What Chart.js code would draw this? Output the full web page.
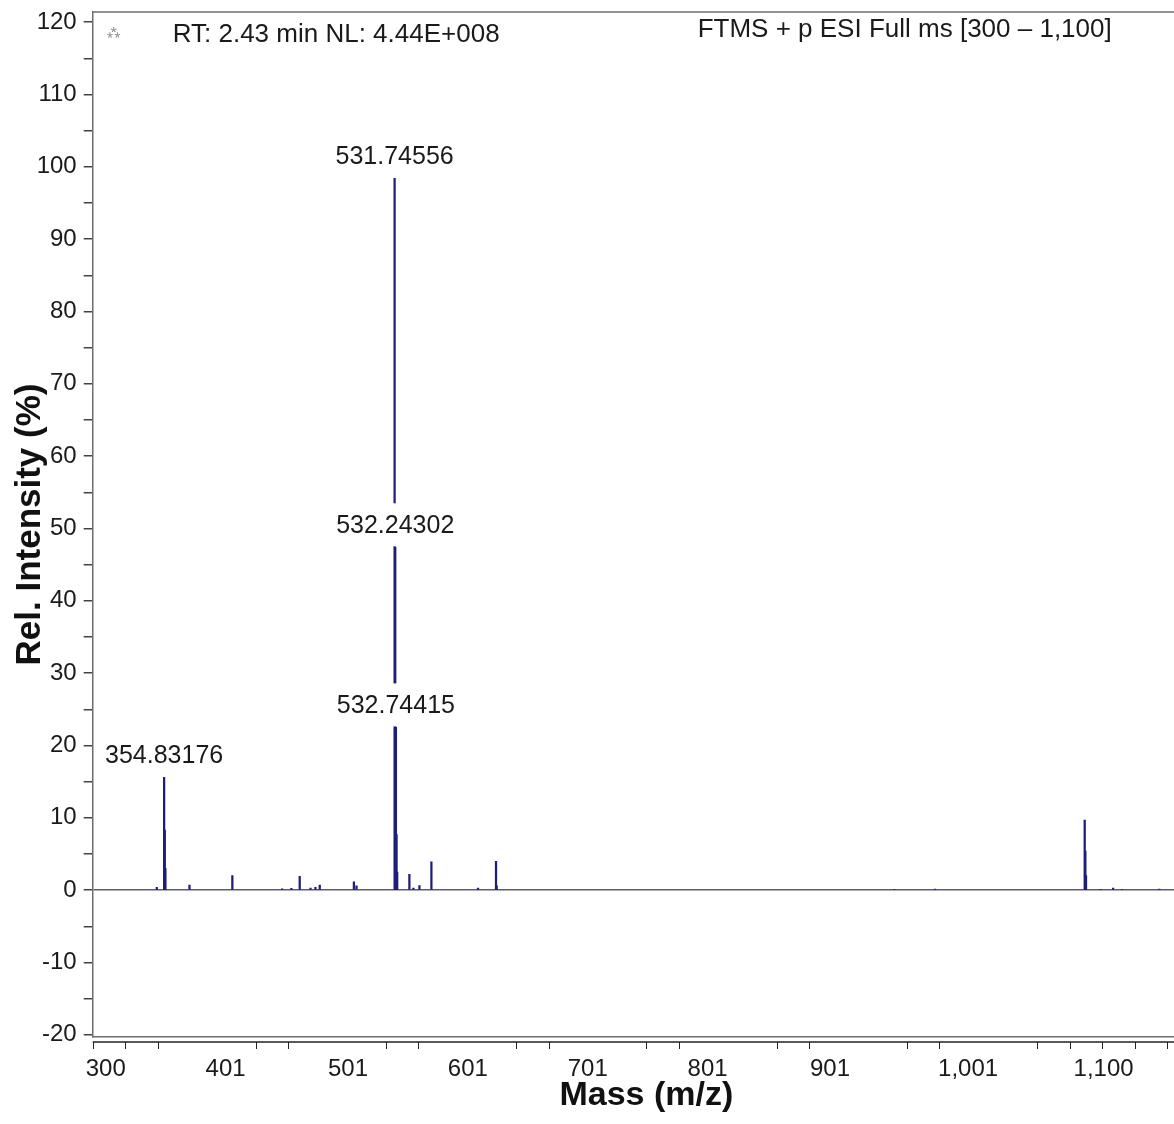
<!DOCTYPE html>
<html><head><meta charset="utf-8">
<script src="https://cdn.jsdelivr.net/npm/chart.js@4.4.1/dist/chart.umd.min.js"></script>
<style>
html,body{margin:0;padding:0;background:#fff;overflow:hidden;width:1174px;height:1124px}
#wrap{position:relative;width:1200px;height:1124px}
</style></head>
<body><div id="wrap"><canvas id="c" width="1200" height="1124"></canvas></div>
<script>
// ---- data ----
const mzValues = [349.2, 354.83176, 355.33, 355.83, 374.3, 407.2, 445.4, 452.5, 458.9, 467.2, 471.0, 474.3,
  500.5, 502.5, 531.74556, 532.24302, 532.74415, 533.25, 533.75, 543.1, 546.2, 550.8, 560.0, 595.8,
  609.6, 610.1, 915.4, 946.6, 1061.5, 1062.0, 1062.5, 1073.8, 1083.3, 1090.2, 1118.7];
const intensities = [0.4, 15.6, 8.3, 3.0, 0.7, 2.0, 0.2, 0.25, 1.9, 0.3, 0.4, 0.7,
  1.15, 0.6, 98.4, 47.4, 22.5, 7.7, 2.5, 2.2, 0.3, 0.65, 3.9, 0.3,
  4.0, 0.6, 0.1, 0.15, 9.7, 5.4, 2.0, 0.1, 0.3, 0.1, 0.15];
const labelledPeaks = [354.83176, 531.74556, 532.24302, 532.74415];
const yTickValues = [-20,-15,-10,-5,0,5,10,15,20,25,30,35,40,45,50,55,60,65,70,75,80,85,90,95,100,105,110,115,120];
const xLabelValues = [310, 402, 496, 588, 680, 772, 866, 972, 1076];
const xLabelTexts = ['300','401','501','601','701','801','901','1,001','1,100'];
const xTickMarks = [300,325,350,425,450,525,550,625,650,725,750,825,850,925,950,1025,1050,1075,1100,1125];
const headerLeft = 'RT: 2.43 min NL: 4.44E+008';
const headerRight = 'FTMS + p ESI Full ms [300 \u2013 1,100]';
const xTitle = 'Mass (m/z)';
const yTitle = 'Rel. Intensity (%)';

const FONT = '"Liberation Sans", Arial, sans-serif';
const PEAK = '#1e1e7a';

const extras = {
  id: 'extras',
  afterDatasetsDraw(chart) {
    const {ctx, scales: {x, y}} = chart;
    ctx.save();
    ctx.font = '25px ' + FONT;
    ctx.textAlign = 'center';
    ctx.textBaseline = 'middle';
    labelledPeaks.forEach(mz => {
      const i = mzValues.indexOf(mz);
      const px = x.getPixelForValue(mz);
      const top = y.getPixelForValue(intensities[i]);
      const txt = mz.toFixed(5);
      const w = ctx.measureText(txt).width;
      ctx.fillStyle = '#fff';
      ctx.fillRect(px - w / 2 - 3, top - 44, w + 6, 43);
      ctx.fillStyle = '#1a1a1a';
      ctx.fillText(txt, px, top - 21);
    });
    ctx.restore();
  },
  afterDraw(chart) {
    const {ctx, chartArea: a, scales: {x}} = chart;
    ctx.save();
    ctx.strokeStyle = '#6e6e6e';
    ctx.lineWidth = 1.5;
    ctx.beginPath();
    ctx.moveTo(a.left, a.top);
    ctx.lineTo(a.right, a.top);
    ctx.stroke();
    const ay = a.bottom + 5;
    ctx.strokeStyle = '#222';
    ctx.lineWidth = 1.5;
    ctx.beginPath();
    ctx.moveTo(a.left, ay);
    ctx.lineTo(a.right, ay);
    ctx.stroke();
    ctx.lineWidth = 1;
    ctx.beginPath();
    xTickMarks.forEach(v => {
      const px = Math.round(x.getPixelForValue(v)) + 0.5;
      ctx.moveTo(px, ay);
      ctx.lineTo(px, ay + 7);
    });
    ctx.stroke();
    ctx.fillStyle = '#1a1a1a';
    ctx.font = '26px ' + FONT;
    ctx.textBaseline = 'middle';
    ctx.textAlign = 'left';
    ctx.fillText(headerLeft, a.left + 80, 35);
    ctx.fillText(headerRight, a.left + 605, 30);
    ctx.fillStyle = '#888';
    ctx.font = '12px ' + FONT;
    ctx.fillText('\u2042', a.left + 14, 33);
    ctx.restore();
  }
};

new Chart(document.getElementById('c').getContext('2d'), {
  type: 'bar',
  data: {
    datasets: [{
      data: mzValues.map((m, i) => ({x: m, y: intensities[i]})),
      backgroundColor: PEAK,
      borderWidth: 0,
      barThickness: 1.6,
      grouped: false
    }]
  },
  options: {
    responsive: false,
    animation: false,
    devicePixelRatio: 1,
    layout: {padding: {top: 12, right: 0, left: 0, bottom: 0}},
    plugins: {legend: {display: false}, tooltip: {enabled: false}},
    scales: {
      x: {
        type: 'linear', min: 300, max: 1150, offset: false, position: 'bottom',
        afterBuildTicks: s => { s.ticks = xLabelValues.map(v => ({value: v})); },
        afterFit: s => { s.height = 87; s.paddingLeft = 0; s.paddingRight = 0; },
        ticks: {autoSkip: false, maxRotation: 0, minRotation: 0, padding: 18, color: '#1a1a1a',
          font: {family: FONT, size: 24}, callback: (v, i) => xLabelTexts[i]},
        grid: {display: false, drawTicks: false, offset: false},
        border: {display: true, color: '#6e6e6e', width: 1.5},
        title: {display: true, text: xTitle, color: '#111',
          font: {family: FONT, size: 34, weight: 'bold'}, padding: {top: 0, bottom: 8}}
      },
      y: {
        min: -20.3, max: 121.4,
        afterBuildTicks: s => { s.ticks = yTickValues.map(v => ({value: v})); },
        afterFit: s => { s.width = 92.7; s.paddingTop = 0; s.paddingBottom = 0; },
        ticks: {autoSkip: false, padding: 7, color: '#1a1a1a', font: {family: FONT, size: 24},
          callback: v => (v % 10 === 0 ? String(v) : '')},
        grid: {color: c => (c.tick && c.tick.value === 0 ? '#5b5b7d' : 'rgba(0,0,0,0)'),
          lineWidth: 1.5, tickColor: '#444', tickLength: 9, drawTicks: true},
        border: {display: true, color: '#6e6e6e', width: 1.5},
        title: {display: true, text: yTitle, color: '#111',
          font: {family: FONT, size: 35, weight: 'bold'}, padding: {top: 9, bottom: 0}}
      }
    }
  },
  plugins: [extras]
});
</script>
</body></html>
